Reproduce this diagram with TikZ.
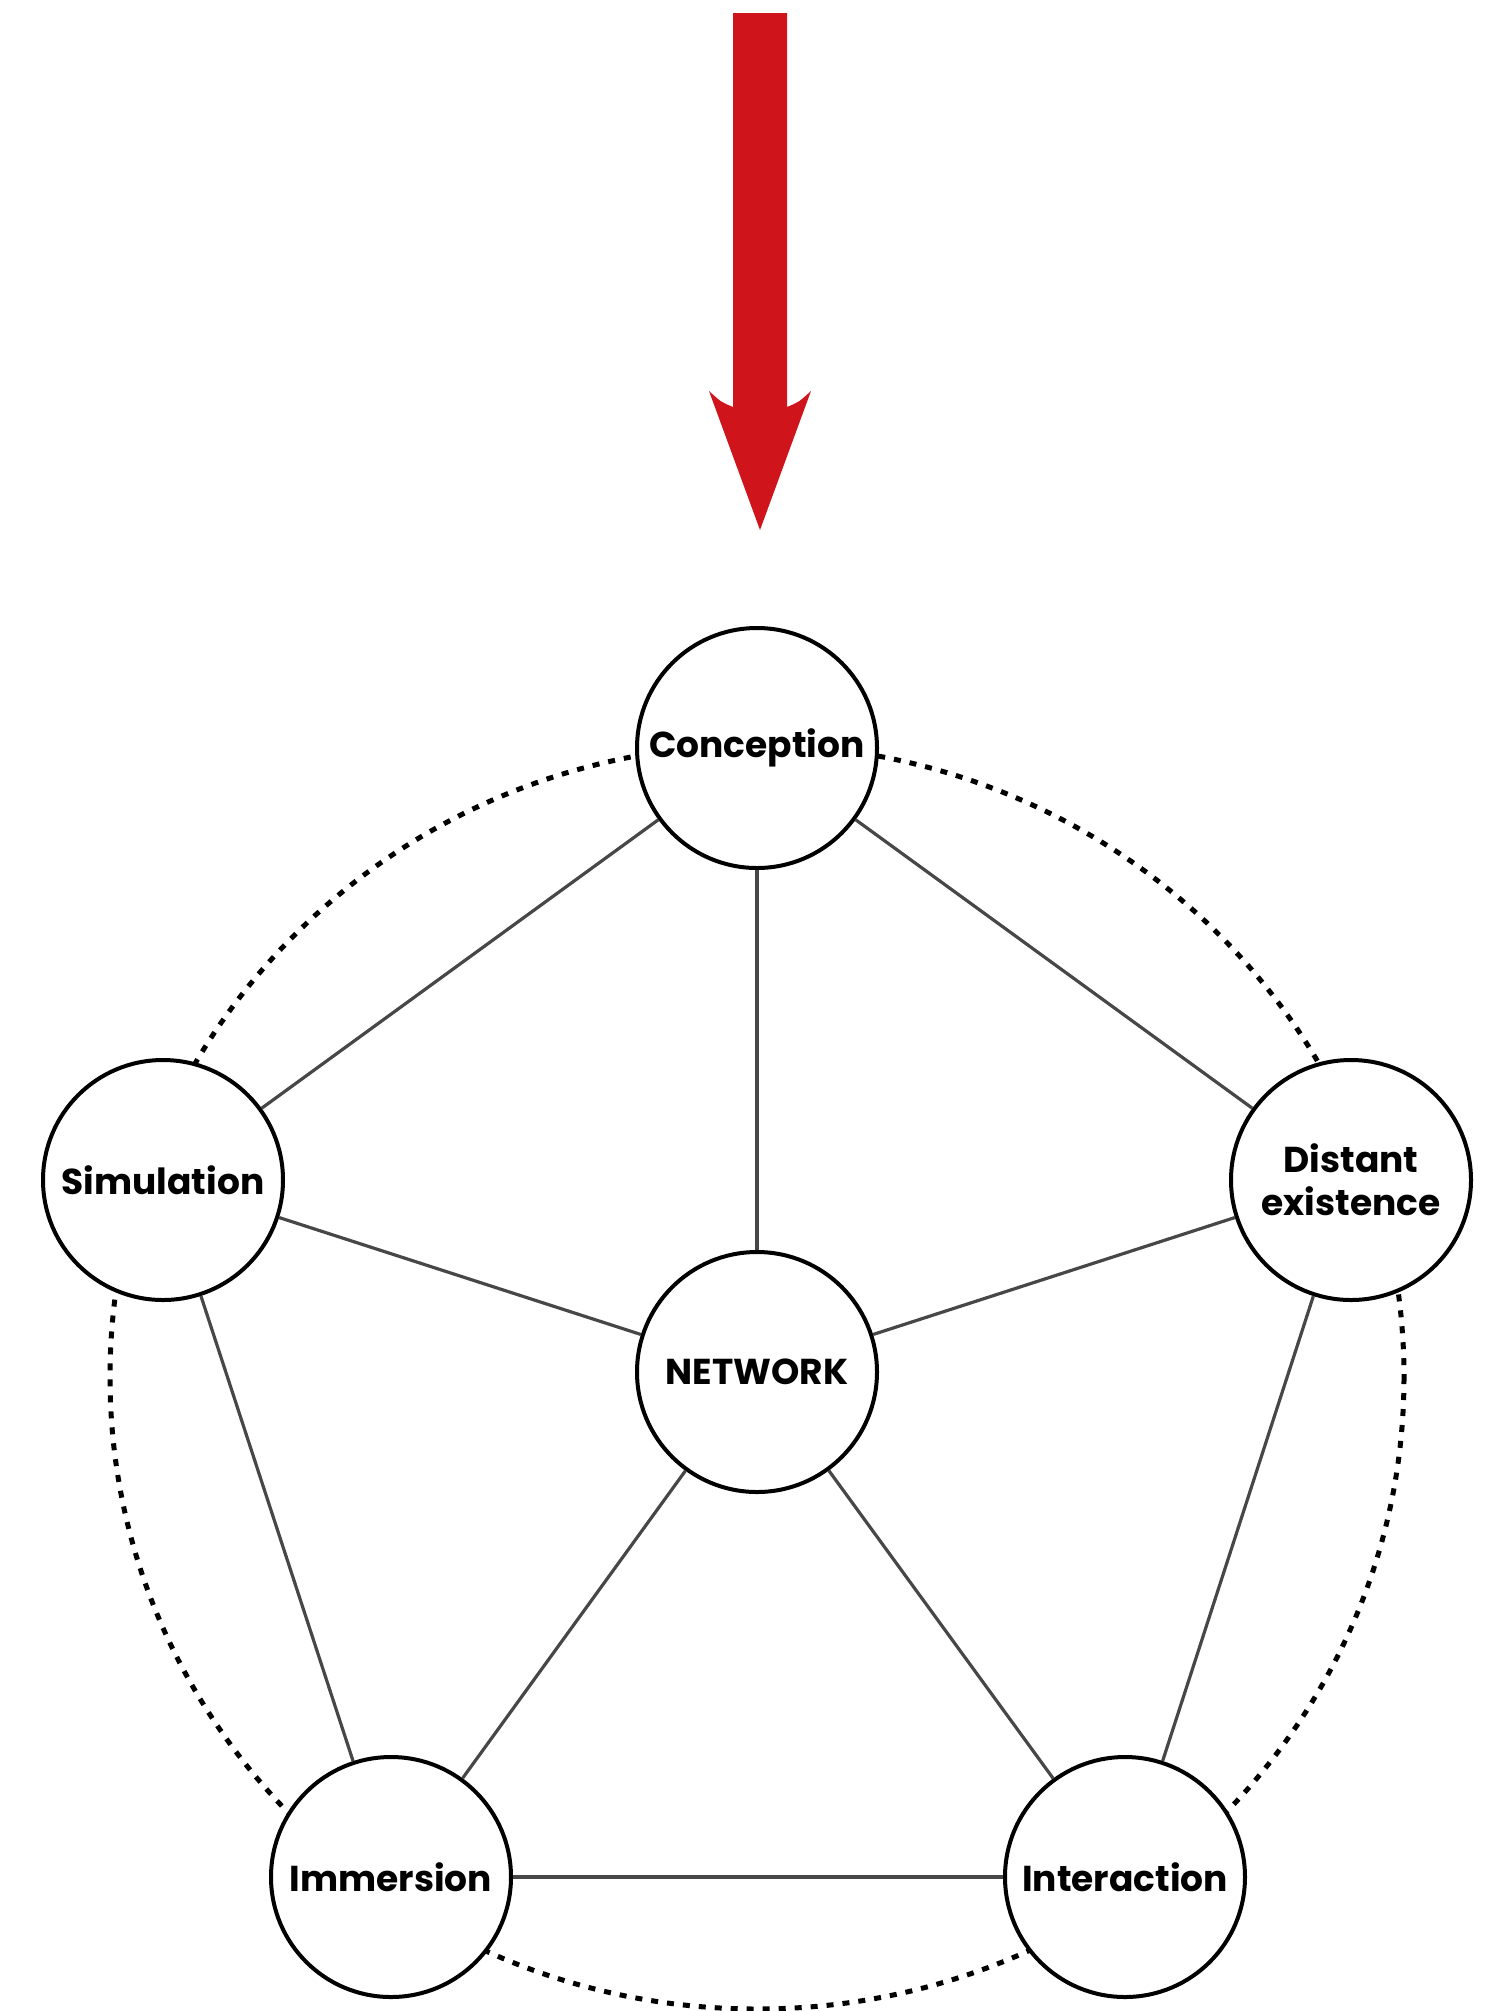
\documentclass[tikz,border=0pt]{standalone}
\usepackage{fontspec}
\setmainfont{Poppins}
\usetikzlibrary{positioning}

\definecolor{arrowRed}{HTML}{D0141C}

\tikzstyle{ideaNode} = [circle, minimum size=240pt, inner sep=0pt, text centered, align=center, draw=black, line width=4pt, fill=white, font=\bfseries\fontsize{36}{43}\selectfont]
\tikzstyle{link} = [draw=black!72, line width=3.2pt]
\tikzstyle{ring} = [draw=black, line width=5pt, dash pattern=on 7pt off 9pt]

\begin{document}
\begin{tikzpicture}[x=1pt, y=-1pt]
    \useasboundingbox (0,0) rectangle (1487,2011);

    % red arrow on top
    \fill[arrowRed] (733,13) -- (787,13) -- (787,407) .. controls (799,402) .. (811,391)
        -- (760,530) -- (709,391) .. controls (721,402) .. (733,407) -- cycle;

    % dotted ring through the outer nodes
    \draw[ring] (757,1377) ellipse [x radius=647, y radius=632];

    \node (conception)[ideaNode] at (757,748) {Conception};
    \node (simulation)[ideaNode] at (163,1180) {Simulation};
    \node (distant)[ideaNode] at (1351,1180) {Distant\\existence};
    \node (network)[ideaNode] at (757,1372) {NETWORK};
    \node (immersion)[ideaNode] at (391,1877) {Immersion};
    \node (interaction)[ideaNode] at (1125,1877) {Interaction};

    \draw [link] (conception) -- (simulation);
    \draw [link] (conception) -- (distant);
    \draw [link] (conception) -- (network);
    \draw [link] (simulation) -- (network);
    \draw [link] (distant) -- (network);
    \draw [link] (simulation) -- (immersion);
    \draw [link] (distant) -- (interaction);
    \draw [link] (network) -- (immersion);
    \draw [link] (network) -- (interaction);
    \draw [link] (immersion) -- (interaction);
\end{tikzpicture}
\end{document}
